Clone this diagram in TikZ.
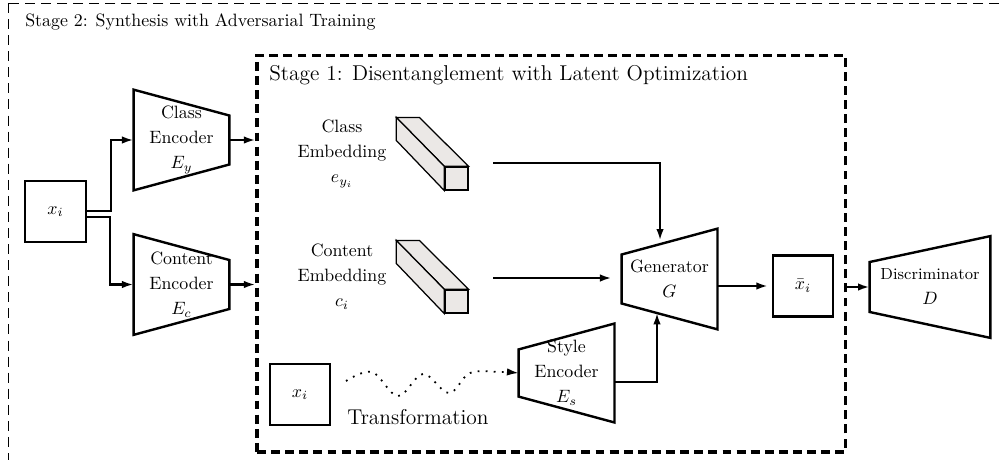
\documentclass[tikz,border=0pt]{standalone}
\usepackage{amsmath,amssymb}
\usepackage{xcolor}
\usetikzlibrary{arrows.meta}
\definecolor{embgray}{RGB}{235,232,230}

% trapezoid outlines drawn round a plain node
\newcommand{\narrowout}[1]{\draw[blockline] (#1.north west) -- ([yshift=-14.5pt]#1.north east) -- ([yshift=14.5pt]#1.south east) -- (#1.south west) -- cycle;}
\newcommand{\narrowin}[1]{\draw[blockline] ([yshift=-14.5pt]#1.north west) -- (#1.north east) -- (#1.south east) -- ([yshift=14.5pt]#1.south west) -- cycle;}
% embedding vector as a cuboid behind its front face
\newcommand{\embvec}[1]{\draw[vecline] (#1.north west) -- ++(-26.9pt,27.4pt) -- ++(12.9pt,0pt) -- (#1.north east) -- cycle;
  \draw[vecline] (#1.north west) -- ++(-26.9pt,27.4pt) -- ++(0pt,-12.9pt) -- (#1.south west) -- cycle;}

\begin{document}
\begin{tikzpicture}[x=0.56pt,y=-0.56pt,
    >={Latex[length=6.5pt,width=4.2pt]},
    blockline/.style={line width=1.35pt},
    box/.style={draw,line width=1.35pt,minimum width=33.9pt,minimum height=34.2pt,inner sep=0pt},
    trap/.style={minimum width=53.3pt,minimum height=56pt,inner sep=0pt,align=center},
    vecline/.style={draw,fill=embgray,line width=0.7pt},
    vecfront/.style={vecline,minimum size=12.9pt,inner sep=0pt},
    arr/.style={->,line width=1.3pt}]
        \useasboundingbox (0,0) rectangle (1002,459);
        \clip (0,0) rectangle (1002,459);

        % Stage 2 frame runs off the page
        \draw[line width=0.5pt,dash pattern=on 5.6pt off 3.4pt] (8,3) rectangle (1015,480);
        \node[anchor=west] (stage2lbl) at (19,22) {Stage 2: Synthesis with Adversarial Training};

        \node[draw,line width=1.7pt,dash pattern=on 5pt off 2.9pt,minimum width=329.3pt,minimum height=222.3pt] (stage1) at (551,253.5) {};
        \node[anchor=west,font=\large] (stage1lbl) at (263,75) {Stage 1: Disentanglement with Latent Optimization};

        \node[box] (xi) at (55.5,211.5) {$x_i$};
        \node[trap] (clsenc) at (181.5,140) {Class\\[2pt]Encoder\\[2pt]$E_y$};
        \narrowout{clsenc}
        \node[trap] (conenc) at (181.5,284.5) {Content\\[2pt]Encoder\\[2pt]$E_c$};
        \narrowout{conenc}

        \node[align=center] (clslbl) at (342,154) {Class\\[2pt]Embedding\\[2pt]$e_{y_i}$};
        \node[align=center] (conlbl) at (342,277) {Content\\[2pt]Embedding\\[2pt]$c_i$};
        \node[vecfront] (clsvec) at (456.5,178.5) {};
        \embvec{clsvec}
        \node[vecfront] (convec) at (456.5,301.5) {};
        \embvec{convec}
        \coordinate (clsout) at (493,163);
        \coordinate (conout) at (493,278);

        \node[trap] (gen) at (669.5,279) {Generator\\[2pt]$G$};
        \narrowin{gen}
        \node[trap,minimum height=55pt] (styenc) at (566.5,373) {Style\\[2pt]Encoder\\[2pt]$E_s$};
        \narrowin{styenc}
        \node[box] (xbar) at (803,286) {$\bar{x}_i$};
        \node[trap,minimum width=67.2pt,minimum height=56.6pt] (disc) at (930,287) {\small Discriminator\\[2pt]$D$};
        \narrowin{disc}

        \node[box] (xtr) at (300,394.5) {$x_i$};
        \coordinate (wavestart) at (346,381);
        \node[font=\large] (trlab) at (418,417) {Transformation};

        \draw[arr] ([yshift=0.3pt]xi.east) -- ++(13.5pt,0pt) |- (clsenc.west);
        \draw[arr] ([yshift=-3pt]xi.east) -- ++(12.9pt,0pt) |- (conenc.west);
        \draw[arr] (clsenc.east) -- (clsenc.east -| stage1.west);
        \draw[arr] (conenc.east) -- (conenc.east -| stage1.west);
        \draw[arr] (clsout) -| ([xshift=-5.3pt,yshift=-6.7pt]gen.north);
        \draw[arr,shorten >=5.6pt] (conout) -- (conout -| gen.west);
        \draw[arr] ([yshift=-4.9pt]styenc.east) -| ([xshift=-7pt,yshift=9.3pt]gen.south);
        \draw[arr,shorten >=2pt] (gen.east |- xbar) -- (xbar);
        \draw[arr] (stage1.east |- disc) -- (disc);
        \draw[->,line width=1pt,dash pattern=on 1pt off 3.5pt] plot[smooth,tension=0.6] coordinates {(wavestart) (372,372) (398,396) (423,374) (449,393) (470,373) (500,372) (styenc.west)};
    \end{tikzpicture}
\end{document}
